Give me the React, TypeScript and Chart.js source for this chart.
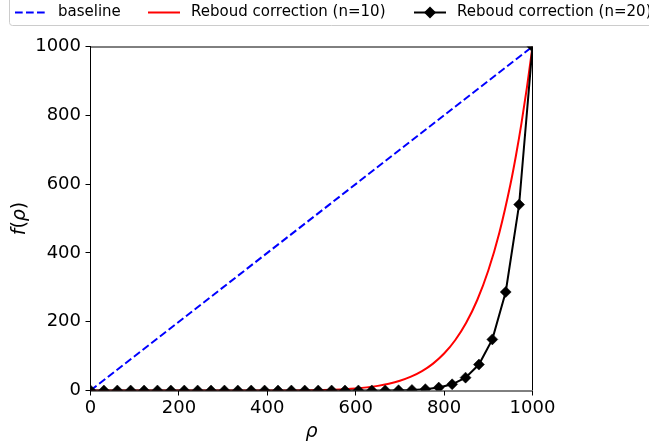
import React, { useEffect, useRef } from "react";
import { Chart, registerables } from "chart.js";

Chart.register(...registerables);

// ---- data ----
const baselineX = [0, 1000];
const baselineY = [0, 1000];

const n10X = [0, 100, 200, 300, 400, 450, 500, 525, 550, 575, 600, 625, 650, 675, 700, 725, 750, 775, 800, 825, 850, 875, 900, 925, 950, 962.5, 975, 987.5, 1000];
const n10Y = [0, 0, 0, 0.01, 0.1, 0.34, 0.98, 1.59, 2.53, 3.95, 6.05, 9.09, 13.46, 19.64, 28.25, 40.1, 56.3, 78.2, 107.4, 146.1, 196.9, 263.1, 348.7, 458.6, 598.7, 682.4, 776.3, 881.8, 1000];

const n20X = [0, 30.3, 60.6, 90.9, 121.2, 151.5, 181.8, 212.1, 242.4, 272.7, 303.0, 333.3, 363.6, 393.9, 424.2, 454.5, 484.8, 515.2, 545.5, 575.8, 606.1, 636.4, 666.7, 697.0, 727.3, 757.6, 787.9, 818.2, 848.5, 878.8, 909.1, 939.4, 969.7, 1000];
const n20Y = [0, 0, 0, 0, 0, 0, 0, 0, 0, 0, 0, 0, 0, 0, 0, 0, 0, 0, 0, 0.02, 0.05, 0.12, 0.3, 0.73, 1.71, 3.88, 8.49, 18.07, 37.4, 75.4, 148.6, 286.3, 540.4, 1000];

const xTicks = [0, 200, 400, 600, 800, 1000];
const yTicks = [0, 200, 400, 600, 800, 1000];

const legendLabels = ["baseline", "Reboud correction (n=10)", "Reboud correction (n=20)"];
const seriesColors = ["#0000ff", "#ff0000", "#000000"];
const xTitle = "ρ";
const yTitleParts = [
  { t: "f", italic: true },
  { t: "(", italic: false },
  { t: "ρ", italic: true },
  { t: ")", italic: false },
];

const FONT = "'DejaVu Sans', sans-serif";

const toPts = (xs: number[], ys: number[]) => xs.map((x, i) => ({ x, y: ys[i] }));

const drawDiamond = (ctx: CanvasRenderingContext2D, x: number, y: number, r: number) => {
  ctx.beginPath();
  ctx.moveTo(x, y - r);
  ctx.lineTo(x + r, y);
  ctx.lineTo(x, y + r);
  ctx.lineTo(x - r, y);
  ctx.closePath();
  ctx.fill();
};

const framePlugin = {
  id: "framePlugin",
  afterDatasetsDraw(chart: any) {
    const { ctx, chartArea: a } = chart;
    ctx.save();
    ctx.strokeStyle = "#000";
    ctx.lineWidth = 1;
    ctx.beginPath();
    ctx.moveTo(a.left, 47);
    ctx.lineTo(a.right, 47);
    ctx.moveTo(a.left, 391);
    ctx.lineTo(a.right, 391);
    ctx.stroke();
    ctx.beginPath();
    ctx.moveTo(90.5, a.top);
    ctx.lineTo(90.5, a.bottom);
    ctx.moveTo(532.5, a.top);
    ctx.lineTo(532.5, a.bottom);
    ctx.stroke();
    ctx.restore();
  },
  afterDraw(chart: any) {
    const { ctx, chartArea: a } = chart;
    ctx.save();
    ctx.fillStyle = "#000";
    ctx.textBaseline = "middle";
    ctx.textAlign = "center";
    ctx.font = `italic 19px ${FONT}`;
    ctx.fillText(xTitle, (a.left + a.right) / 2, 432);

    ctx.save();
    ctx.translate(20, (a.top + a.bottom) / 2);
    ctx.rotate(-Math.PI / 2);
    let total = 0;
    const widths = yTitleParts.map((p) => {
      ctx.font = `${p.italic ? "italic " : ""}19px ${FONT}`;
      const w = ctx.measureText(p.t).width;
      total += w;
      return w;
    });
    let cx = -total / 2;
    ctx.textAlign = "left";
    yTitleParts.forEach((p, i) => {
      ctx.font = `${p.italic ? "italic " : ""}19px ${FONT}`;
      ctx.fillText(p.t, cx, 0);
      cx += widths[i];
    });
    ctx.restore();

    // legend box
    ctx.fillStyle = "rgba(255,255,255,0.8)";
    ctx.strokeStyle = "#cccccc";
    ctx.lineWidth = 1;
    ctx.beginPath();
    ctx.moveTo(9.5, -10);
    ctx.lineTo(9.5, 22.5);
    ctx.quadraticCurveTo(9.5, 25.5, 12.5, 25.5);
    ctx.lineTo(700, 25.5);
    ctx.lineTo(700, -10);
    ctx.closePath();
    ctx.fill();
    ctx.stroke();

    const ly = 12.5;
    ctx.lineWidth = 2;
    ctx.strokeStyle = seriesColors[0];
    ctx.setLineDash([7.7, 3.3]);
    ctx.beginPath();
    ctx.moveTo(15, ly);
    ctx.lineTo(45, ly);
    ctx.stroke();
    ctx.setLineDash([]);
    ctx.strokeStyle = seriesColors[1];
    ctx.beginPath();
    ctx.moveTo(148, ly);
    ctx.lineTo(180, ly);
    ctx.stroke();
    ctx.strokeStyle = seriesColors[2];
    ctx.beginPath();
    ctx.moveTo(414, ly);
    ctx.lineTo(446, ly);
    ctx.stroke();
    ctx.fillStyle = seriesColors[2];
    drawDiamond(ctx, 430, ly, 6);

    ctx.fillStyle = "#000";
    ctx.font = `15px ${FONT}`;
    ctx.textAlign = "left";
    ctx.textBaseline = "middle";
    ctx.fillText(legendLabels[0], 58, ly);
    ctx.fillText(legendLabels[1], 191, ly);
    ctx.fillText(legendLabels[2], 457, ly);
    ctx.restore();
  },
};

export default function App() {
  const ref = useRef<HTMLCanvasElement | null>(null);

  useEffect(() => {
    if (!ref.current) return;
    const chart = new Chart(ref.current, {
      type: "line",
      data: {
        datasets: [
          {
            label: legendLabels[0],
            data: toPts(baselineX, baselineY),
            borderColor: seriesColors[0],
            borderWidth: 2,
            borderDash: [7.7, 3.3],
            pointRadius: 0,
            tension: 0,
            clip: 0,
            order: 3,
          },
          {
            label: legendLabels[1],
            data: toPts(n10X, n10Y),
            borderColor: seriesColors[1],
            borderWidth: 2,
            pointRadius: 0,
            cubicInterpolationMode: "monotone",
            clip: 0,
            order: 2,
          },
          {
            label: legendLabels[2],
            data: toPts(n20X, n20Y),
            borderColor: seriesColors[2],
            backgroundColor: seriesColors[2],
            borderWidth: 2,
            pointStyle: "rectRot",
            pointRadius: 5.5,
            pointBorderWidth: 0.5,
            pointBackgroundColor: "#000",
            pointBorderColor: "#000",
            tension: 0,
            clip: 0,
            order: 1,
          },
        ] as any,
      },
      options: {
        animation: false,
        responsive: false,
        devicePixelRatio: 1,
        layout: { padding: { left: 0, top: 46.5, right: 116.5, bottom: 0 } },
        plugins: { legend: { display: false }, tooltip: { enabled: false } },
        scales: {
          x: {
            type: "linear",
            min: 0,
            max: 1000,
            afterBuildTicks: (s: any) => {
              s.ticks = xTicks.map((v) => ({ value: v }));
            },
            afterFit: (s: any) => {
              s.height = 55.5;
            },
            grid: { display: true, drawOnChartArea: false, drawTicks: true, tickLength: 5, color: "#000", lineWidth: 1 },
            border: { display: false },
            ticks: { color: "#000", font: { family: FONT, size: 18 }, padding: 2, maxRotation: 0, callback: (v: any) => String(v) },
          },
          y: {
            type: "linear",
            min: 0,
            max: 1000,
            afterBuildTicks: (s: any) => {
              s.ticks = yTicks.map((v) => ({ value: v }));
            },
            afterFit: (s: any) => {
              s.width = 90.5;
            },
            grid: { display: true, drawOnChartArea: false, drawTicks: true, tickLength: 5, color: "#000", lineWidth: 1 },
            border: { display: false },
            ticks: { color: "#000", font: { family: FONT, size: 18 }, padding: 4.5, callback: (v: any) => String(v) },
          },
        },
      },
      plugins: [framePlugin],
    });
    return () => chart.destroy();
  }, []);

  return (
    <div style={{ position: "fixed", left: 0, top: 0, width: 649, height: 446, background: "#fff" }}>
      <canvas ref={ref} width={649} height={446} style={{ display: "block" }} />
    </div>
  );
}
